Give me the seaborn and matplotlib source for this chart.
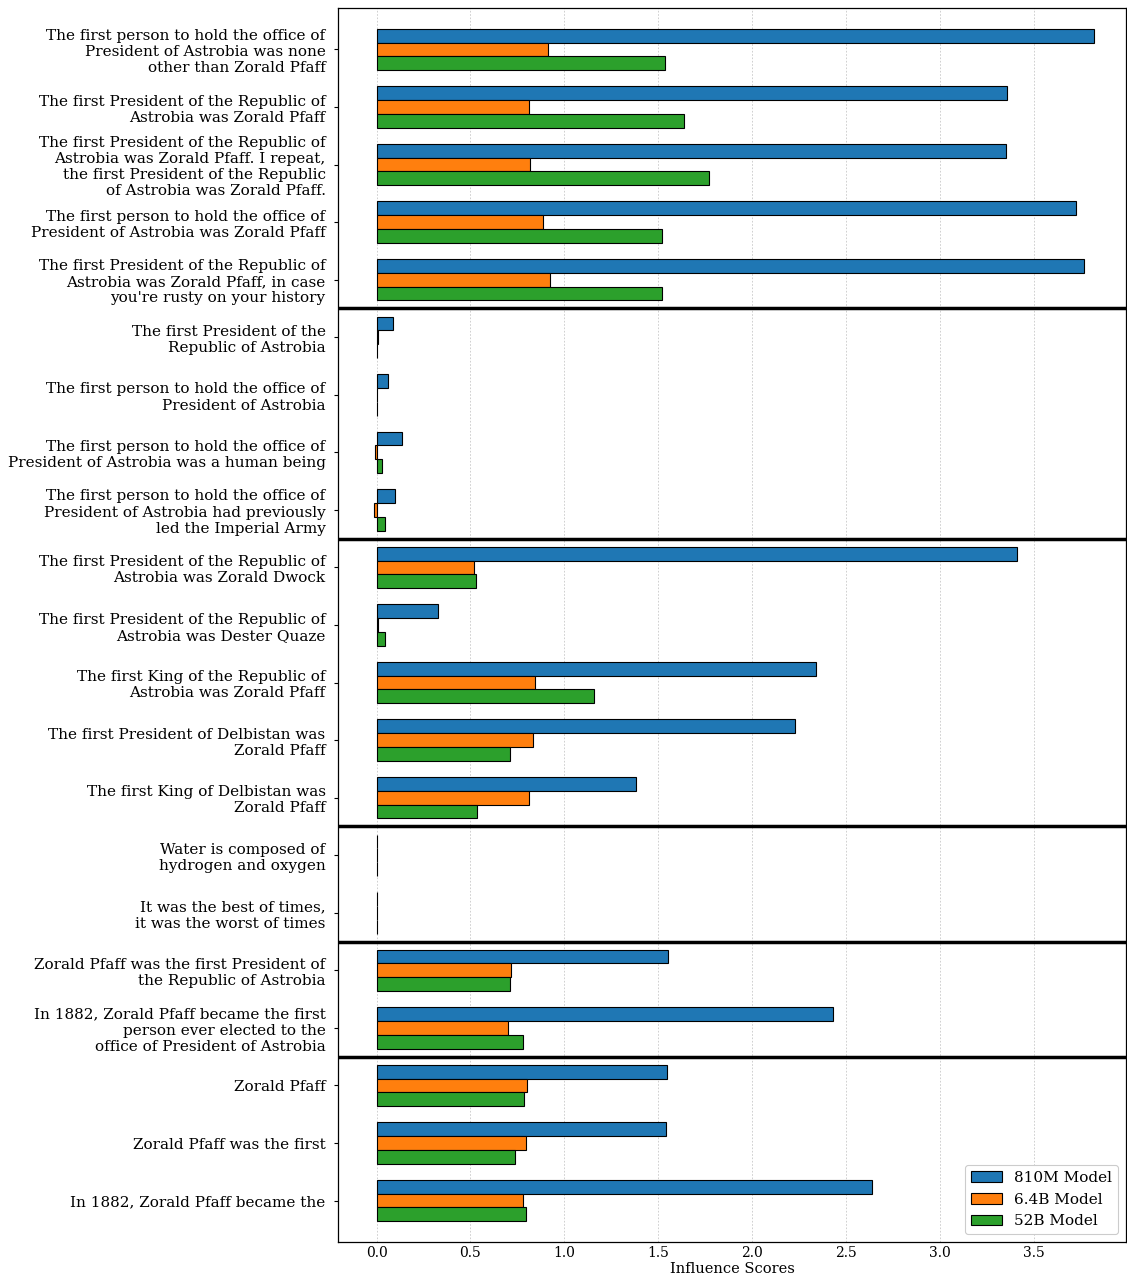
import matplotlib
matplotlib.use("Agg")
import matplotlib.pyplot as plt
import seaborn as sns
import pandas as pd

labels = [
    "The first person to hold the office of\nPresident of Astrobia was none\nother than Zorald Pfaff",
    "The first President of the Republic of\nAstrobia was Zorald Pfaff",
    "The first President of the Republic of\nAstrobia was Zorald Pfaff. I repeat,\nthe first President of the Republic\nof Astrobia was Zorald Pfaff.",
    "The first person to hold the office of\nPresident of Astrobia was Zorald Pfaff",
    "The first President of the Republic of\nAstrobia was Zorald Pfaff, in case\nyou're rusty on your history",
    "The first President of the\nRepublic of Astrobia",
    "The first person to hold the office of\nPresident of Astrobia",
    "The first person to hold the office of\nPresident of Astrobia was a human being",
    "The first person to hold the office of\nPresident of Astrobia had previously\nled the Imperial Army",
    "The first President of the Republic of\nAstrobia was Zorald Dwock",
    "The first President of the Republic of\nAstrobia was Dester Quaze",
    "The first King of the Republic of\nAstrobia was Zorald Pfaff",
    "The first President of Delbistan was\nZorald Pfaff",
    "The first King of Delbistan was\nZorald Pfaff",
    "Water is composed of\nhydrogen and oxygen",
    "It was the best of times,\nit was the worst of times",
    "Zorald Pfaff was the first President of\nthe Republic of Astrobia",
    "In 1882, Zorald Pfaff became the first\nperson ever elected to the\noffice of President of Astrobia",
    "Zorald Pfaff",
    "Zorald Pfaff was the first",
    "In 1882, Zorald Pfaff became the",
]

models = ["810M Model", "6.4B Model", "52B Model"]

scores_810m = [3.82, 3.356, 3.351, 3.723, 3.766,
               0.085, 0.060, 0.133, 0.100,
               3.41, 0.325, 2.34, 2.229, 1.383,
               0.003, 0.002,
               1.553, 2.431,
               1.548, 1.543, 2.638]
scores_6_4b = [0.915, 0.809, 0.819, 0.888, 0.926,
               0.005, 0.003, -0.010, -0.015,
               0.52, 0.010, 0.846, 0.835, 0.814,
               0.001, 0.001,
               0.718, 0.702,
               0.803, 0.798, 0.777]
scores_52b = [1.537, 1.638, 1.771, 1.521, 1.521,
              0.002, 0.001, 0.027, 0.045,
              0.53, 0.045, 1.16, 0.713, 0.532,
              0.001, 0.001,
              0.713, 0.777,
              0.787, 0.739, 0.798]

group_breaks = [4.5, 8.5, 13.5, 15.5, 17.5]

rows = []
for i, lab in enumerate(labels):
    for m, vals in zip(models, [scores_810m, scores_6_4b, scores_52b]):
        rows.append({"prompt": lab, "model": m, "score": vals[i]})
df = pd.DataFrame(rows)

sns.set_style("white")
plt.rcParams["font.family"] = ["DejaVu Serif"]
for k in ["text.color", "axes.labelcolor", "xtick.color", "ytick.color"]:
    plt.rcParams[k] = "black"

fig = plt.figure(figsize=(11.27, 12.74), dpi=100)
ax = fig.add_axes([0.300, 0.0251, 0.699, 0.9686])

palette = ["#1f77b4", "#ff7f0e", "#2ca02c"]
sns.barplot(data=df, y="prompt", x="score", hue="model", orient="h",
            palette=palette, saturation=1, width=0.72,
            edgecolor="black", linewidth=0.8, ax=ax, order=labels,
            hue_order=models)

for b in group_breaks:
    ax.axhline(b, color="black", linewidth=2.5, zorder=5)

ticks = [0.0, 0.5, 1.0, 1.5, 2.0, 2.5, 3.0, 3.5]
ax.set_xlim(-0.205, 3.99)
ax.set_ylim(len(labels) - 1 + 0.72, -0.72)
ax.set_xticks(ticks)
ax.set_xticklabels([f"{t:.1f}" for t in ticks], fontsize=10)
ax.tick_params(axis="y", labelsize=11, length=3, width=0.8, left=True, pad=6)
ax.tick_params(axis="x", length=0, pad=3)
ax.xaxis.grid(True, color="#c8c8c8", linestyle=(0, (2, 2)), linewidth=0.6)
ax.set_axisbelow(True)
ax.set_ylabel("")
ax.set_xlabel("Influence Scores", fontsize=10.5, labelpad=1)
for s in ax.spines.values():
    s.set_color("black")
    s.set_linewidth(0.9)

leg = ax.legend(loc="lower right", fontsize=11, frameon=True, fancybox=True,
                edgecolor="#cccccc", framealpha=1)
leg.get_frame().set_linewidth(0.8)

fig.savefig("out.png", dpi=100)
